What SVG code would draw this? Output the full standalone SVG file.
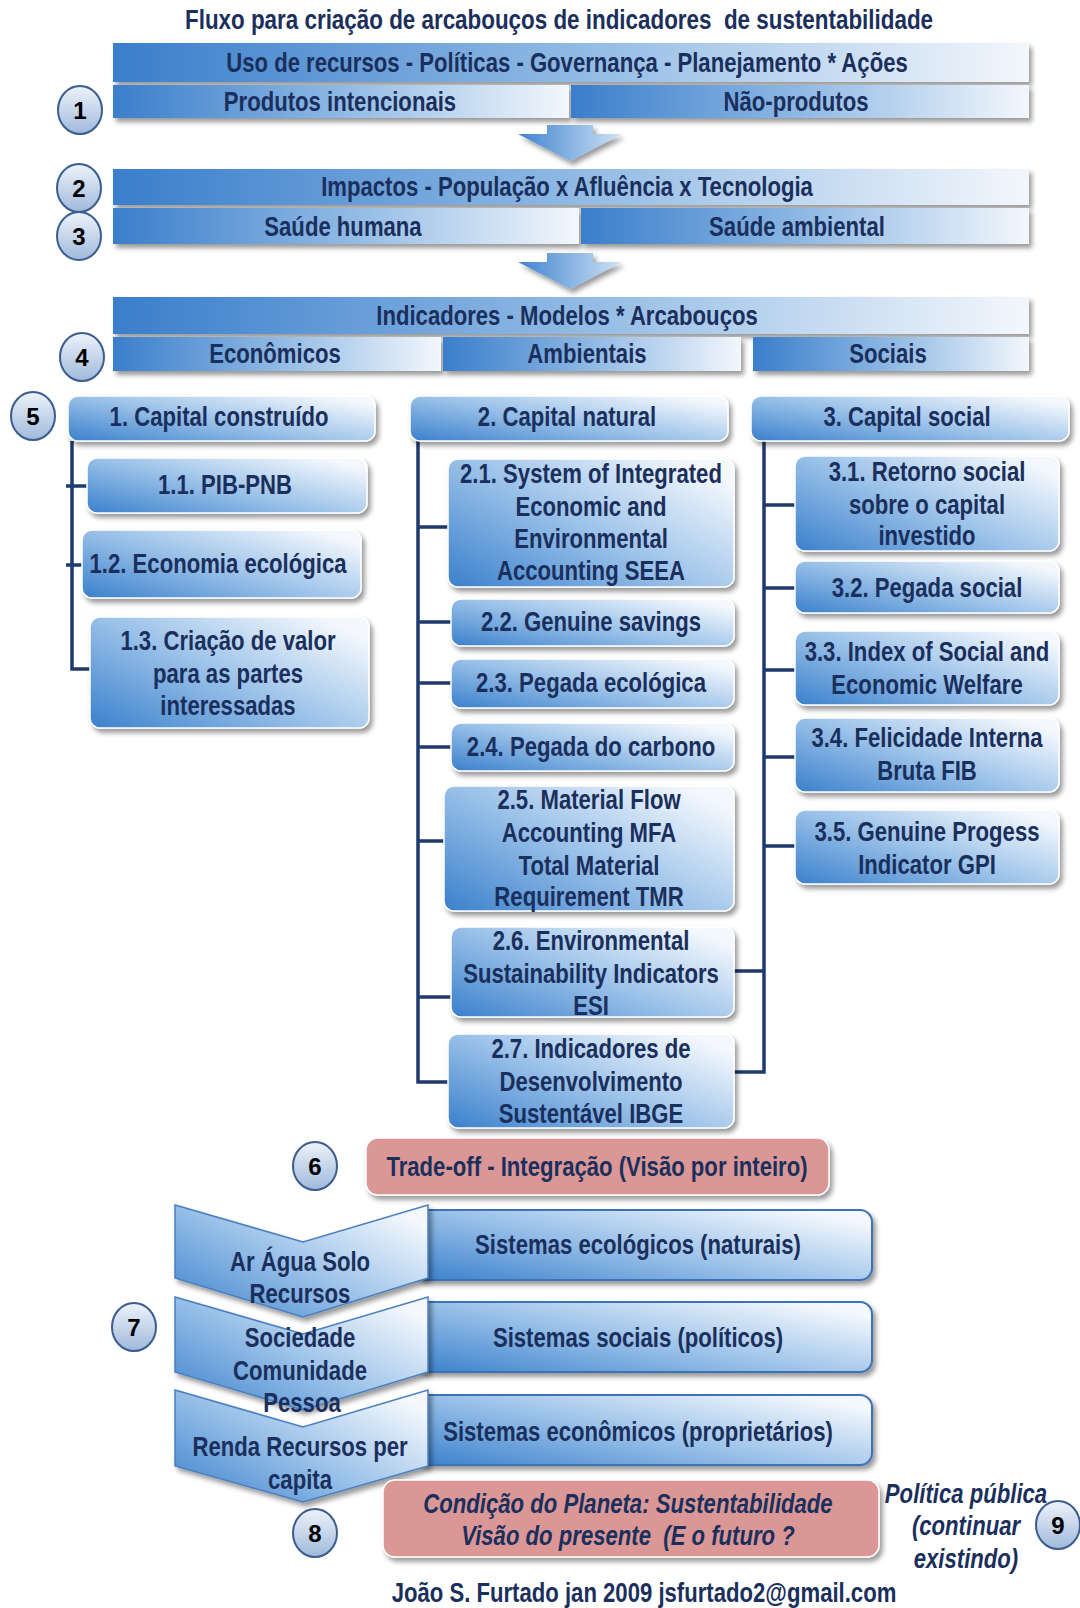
<svg xmlns="http://www.w3.org/2000/svg" width="1080" height="1608" viewBox="0 0 1080 1608">
<defs>
<linearGradient id="gBar" x1="0" y1="0" x2="1" y2="0">
<stop offset="0" stop-color="#3a7ecb"/><stop offset="0.5" stop-color="#8fb9e4"/><stop offset="1" stop-color="#f3f7fc"/>
</linearGradient>
<linearGradient id="gBox" x1="0" y1="1" x2="1" y2="0.2">
<stop offset="0" stop-color="#3a80cc"/><stop offset="0.5" stop-color="#98c0e8"/><stop offset="1" stop-color="#f4f8fd"/>
</linearGradient>
<linearGradient id="gArrow" x1="0" y1="0" x2="1" y2="0">
<stop offset="0" stop-color="#3f84cf"/><stop offset="1" stop-color="#cfe2f4"/>
</linearGradient>
<linearGradient id="gBadge" x1="0" y1="0" x2="0" y2="1">
<stop offset="0" stop-color="#eef3fa"/><stop offset="1" stop-color="#9fb9db"/>
</linearGradient>
<filter id="sh" x="-10%" y="-20%" width="125%" height="150%">
<feDropShadow dx="3" dy="4" stdDeviation="2.5" flood-color="#000" flood-opacity="0.4"/>
</filter>
</defs>
<style>
text{font-family:"Liberation Sans",Arial,sans-serif;font-weight:bold;font-size:27px;fill:#1b2f5c;text-anchor:middle;white-space:pre}
.bar{fill:url(#gBar);filter:url(#sh)}
.box{fill:url(#gBox);stroke:#ffffff;stroke-width:1.5;filter:url(#sh)}
.pink{fill:#da9795;stroke:#ffffff;stroke-width:1.5;filter:url(#sh)}
.sys{fill:url(#gBox);stroke:#3c72b6;stroke-width:2;filter:url(#sh)}
.chev{fill:url(#gBox);stroke:#4a7fc0;stroke-width:1.5;filter:url(#sh)}
.arrow{fill:url(#gArrow);filter:url(#sh)}
.badge ellipse{fill:url(#gBadge);stroke:#3c5d8f;stroke-width:2}
.badge text{fill:#000;font-size:24px}
.it{font-style:italic}
#connectors path{fill:none;stroke:#1f3a6e;stroke-width:3.5}
</style>

<text id="title" xml:space="preserve" transform="translate(559,29) scale(0.83,1)">Fluxo para criação de arcabouços de indicadores  de sustentabilidade</text>

<g id="row1">
<rect class="bar" x="113" y="43" width="916" height="39"/>
<text transform="translate(567,72) scale(0.82,1)">Uso de recursos - Políticas - Governança - Planejamento * Ações</text>
</g>
<g id="produtos">
<rect class="bar" x="113" y="85" width="456" height="33"/>
<text transform="translate(340,111) scale(0.82,1)">Produtos intencionais</text>
</g>
<g id="naoprodutos">
<rect class="bar" x="571" y="85" width="458" height="33"/>
<text transform="translate(796,111) scale(0.82,1)">Não-produtos</text>
</g>
<g id="arrow1"><polygon class="arrow" points="547,125 593,125 593,134 622,134 570,161 518,134 547,134"/></g>

<g id="impactos">
<rect class="bar" x="113" y="169" width="916" height="36"/>
<text transform="translate(567,196) scale(0.82,1)">Impactos - População x Afluência x Tecnologia</text>
</g>
<g id="saudehumana">
<rect class="bar" x="113" y="208" width="466" height="36"/>
<text transform="translate(343,236) scale(0.82,1)">Saúde humana</text>
</g>
<g id="saudeambiental">
<rect class="bar" x="581" y="208" width="448" height="36"/>
<text transform="translate(797,236) scale(0.82,1)">Saúde ambiental</text>
</g>
<g id="arrow2"><polygon class="arrow" points="547,253 593,253 593,262 622,262 570,289 518,262 547,262"/></g>

<g id="indicadores">
<rect class="bar" x="113" y="297" width="916" height="37"/>
<text transform="translate(567,325) scale(0.82,1)">Indicadores - Modelos * Arcabouços</text>
</g>
<g id="economicos">
<rect class="bar" x="113" y="337" width="328" height="34"/>
<text transform="translate(275,363) scale(0.82,1)">Econômicos</text>
</g>
<g id="ambientais">
<rect class="bar" x="443" y="337" width="298" height="34"/>
<text transform="translate(587,363) scale(0.82,1)">Ambientais</text>
</g>
<g id="sociais">
<rect class="bar" x="753" y="337" width="276" height="34"/>
<text transform="translate(888,363) scale(0.82,1)">Sociais</text>
</g>

<g id="connectors">
<path d="M72,441 V669 H90 M66,486 H87 M66,565 H82"/>
<path d="M418,441 V1082 H448 M418,527 H448 M418,622 H451 M418,683 H451 M418,747 H451 M418,841 H444 M418,997 H451"/>
<path d="M764,441 V1072 H734 M734,971 H764 M764,505 H795 M764,588 H795 M764,670 H795 M764,757 H795 M764,846 H795"/>
</g>

<g id="cap1">
<rect class="box" x="68" y="396" width="307" height="45" rx="10"/>
<text transform="translate(219,426) scale(0.82,1)">1. Capital construído</text>
</g>
<g id="cap2">
<rect class="box" x="410" y="396" width="318" height="45" rx="10"/>
<text transform="translate(567,426) scale(0.82,1)">2. Capital natural</text>
</g>
<g id="cap3">
<rect class="box" x="751" y="396" width="318" height="45" rx="10"/>
<text transform="translate(907,426) scale(0.82,1)">3. Capital social</text>
</g>

<g id="n11">
<rect class="box" x="87" y="458" width="280" height="55" rx="10"/>
<text transform="translate(225,494) scale(0.82,1)">1.1. PIB-PNB</text>
</g>
<g id="n12">
<rect class="box" x="82" y="530" width="279" height="68" rx="10"/>
<text transform="translate(218,573) scale(0.82,1)">1.2. Economia ecológica</text>
</g>
<g id="n13">
<rect class="box" x="90" y="617" width="279" height="111" rx="10"/>
<text transform="translate(228,650) scale(0.82,1)">1.3. Criação de valor</text>
<text transform="translate(228,683) scale(0.82,1)">para as partes</text>
<text transform="translate(228,715) scale(0.82,1)">interessadas</text>
</g>

<g id="n21">
<rect class="box" x="448" y="459" width="286" height="128" rx="10"/>
<text transform="translate(591,483) scale(0.82,1)">2.1. System of Integrated</text>
<text transform="translate(591,516) scale(0.82,1)">Economic and</text>
<text transform="translate(591,548) scale(0.82,1)">Environmental</text>
<text transform="translate(591,580) scale(0.82,1)">Accounting SEEA</text>
</g>
<g id="n22">
<rect class="box" x="451" y="599" width="283" height="47" rx="10"/>
<text transform="translate(591,631) scale(0.82,1)">2.2. Genuine savings</text>
</g>
<g id="n23">
<rect class="box" x="451" y="659" width="283" height="49" rx="10"/>
<text transform="translate(591,692) scale(0.82,1)">2.3. Pegada ecológica</text>
</g>
<g id="n24">
<rect class="box" x="451" y="723" width="283" height="48" rx="10"/>
<text transform="translate(591,756) scale(0.82,1)">2.4. Pegada do carbono</text>
</g>
<g id="n25">
<rect class="box" x="444" y="786" width="290" height="125" rx="10"/>
<text transform="translate(589,809) scale(0.82,1)">2.5. Material Flow</text>
<text transform="translate(589,842) scale(0.82,1)">Accounting MFA</text>
<text transform="translate(589,875) scale(0.82,1)">Total Material</text>
<text transform="translate(589,906) scale(0.82,1)">Requirement TMR</text>
</g>
<g id="n26">
<rect class="box" x="451" y="927" width="283" height="90" rx="10"/>
<text transform="translate(591,950) scale(0.82,1)">2.6. Environmental</text>
<text transform="translate(591,983) scale(0.82,1)">Sustainability Indicators</text>
<text transform="translate(591,1015) scale(0.82,1)">ESI</text>
</g>
<g id="n27">
<rect class="box" x="448" y="1034" width="286" height="94" rx="10"/>
<text transform="translate(591,1058) scale(0.82,1)">2.7. Indicadores de</text>
<text transform="translate(591,1091) scale(0.82,1)">Desenvolvimento</text>
<text transform="translate(591,1123) scale(0.82,1)">Sustentável IBGE</text>
</g>

<g id="n31">
<rect class="box" x="795" y="456" width="264" height="95" rx="10"/>
<text transform="translate(927,481) scale(0.82,1)">3.1. Retorno social</text>
<text transform="translate(927,514) scale(0.82,1)">sobre o capital</text>
<text transform="translate(927,545) scale(0.82,1)">investido</text>
</g>
<g id="n32">
<rect class="box" x="795" y="561" width="264" height="52" rx="10"/>
<text transform="translate(927,597) scale(0.82,1)">3.2. Pegada social</text>
</g>
<g id="n33">
<rect class="box" x="795" y="631" width="264" height="74" rx="10"/>
<text transform="translate(927,661) scale(0.82,1)">3.3. Index of Social and</text>
<text transform="translate(927,694) scale(0.82,1)">Economic Welfare</text>
</g>
<g id="n34">
<rect class="box" x="795" y="718" width="264" height="74" rx="10"/>
<text transform="translate(927,747) scale(0.82,1)">3.4. Felicidade Interna</text>
<text transform="translate(927,780) scale(0.82,1)">Bruta FIB</text>
</g>
<g id="n35">
<rect class="box" x="795" y="810" width="264" height="74" rx="10"/>
<text transform="translate(927,841) scale(0.82,1)">3.5. Genuine Progess</text>
<text transform="translate(927,874) scale(0.82,1)">Indicator GPI</text>
</g>

<g id="tradeoff">
<rect class="pink" x="366" y="1138" width="463" height="57" rx="12"/>
<text transform="translate(597,1176) scale(0.82,1)">Trade-off - Integração (Visão por inteiro)</text>
</g>

<g id="sys1">
<rect class="sys" x="415" y="1210" width="457" height="70" rx="12"/>
<text transform="translate(638,1254) scale(0.82,1)">Sistemas ecológicos (naturais)</text>
</g>
<g id="sys2">
<rect class="sys" x="415" y="1302" width="457" height="70" rx="12"/>
<text transform="translate(638,1347) scale(0.82,1)">Sistemas sociais (políticos)</text>
</g>
<g id="sys3">
<rect class="sys" x="415" y="1395" width="457" height="70" rx="12"/>
<text transform="translate(638,1441) scale(0.82,1)">Sistemas econômicos (proprietários)</text>
</g>

<g id="chev1">
<polygon class="chev" points="175,1205 303,1242 428,1205 428,1278 303,1317 175,1278"/>
<text transform="translate(300,1271) scale(0.82,1)">Ar Água Solo</text>
<text transform="translate(300,1303) scale(0.82,1)">Recursos</text>
</g>
<g id="chev2">
<polygon class="chev" points="175,1297 303,1334 428,1297 428,1372 303,1410 175,1372"/>
<text transform="translate(300,1347) scale(0.82,1)">Sociedade</text>
<text transform="translate(300,1380) scale(0.82,1)">Comunidade</text>
<text transform="translate(302,1412) scale(0.82,1)">Pessoa</text>
</g>
<g id="chev3">
<polygon class="chev" points="175,1390 303,1427 428,1390 428,1466 303,1502 175,1466"/>
<text transform="translate(300,1456) scale(0.82,1)">Renda Recursos per</text>
<text transform="translate(300,1489) scale(0.82,1)">capita</text>
</g>

<g id="condicao">
<rect class="pink" x="383" y="1480" width="496" height="77" rx="12"/>
<text class="it" transform="translate(628,1513) scale(0.82,1)">Condição do Planeta: Sustentabilidade</text>
<text class="it" xml:space="preserve" transform="translate(628,1545) scale(0.82,1)">Visão do presente  (E o futuro ?</text>
</g>

<g id="politica">
<text class="it" transform="translate(966,1503) scale(0.82,1)">Política pública</text>
<text class="it" transform="translate(966,1535) scale(0.82,1)">(continuar</text>
<text class="it" transform="translate(966,1568) scale(0.82,1)">existindo)</text>
</g>

<g id="b1" class="badge"><ellipse cx="80" cy="110" rx="22" ry="24"/><text x="80" y="119">1</text></g>
<g id="b2" class="badge"><ellipse cx="79" cy="188" rx="22" ry="24"/><text x="79" y="197">2</text></g>
<g id="b3" class="badge"><ellipse cx="79" cy="236" rx="22" ry="24"/><text x="79" y="245">3</text></g>
<g id="b4" class="badge"><ellipse cx="82" cy="357" rx="22" ry="24"/><text x="82" y="366">4</text></g>
<g id="b5" class="badge"><ellipse cx="33" cy="416" rx="22" ry="24"/><text x="33" y="425">5</text></g>
<g id="b6" class="badge"><ellipse cx="315" cy="1166" rx="22" ry="24"/><text x="315" y="1175">6</text></g>
<g id="b7" class="badge"><ellipse cx="134" cy="1327" rx="22" ry="24"/><text x="134" y="1336">7</text></g>
<g id="b8" class="badge"><ellipse cx="315" cy="1533" rx="22" ry="24"/><text x="315" y="1542">8</text></g>
<g id="b9" class="badge"><ellipse cx="1058" cy="1525" rx="22" ry="24"/><text x="1058" y="1534">9</text></g>

<text id="footer" transform="translate(644,1602) scale(0.82,1)">João S. Furtado jan 2009 jsfurtado2@gmail.com</text>
</svg>
